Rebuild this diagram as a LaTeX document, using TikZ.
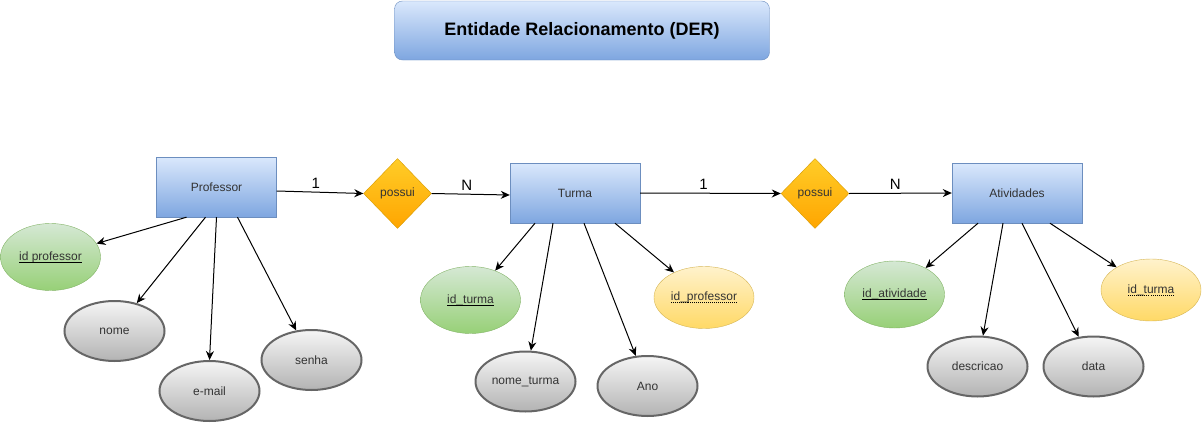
\documentclass[tikz,border=0pt]{standalone}
\usepackage{fontspec}
\setmainfont{Liberation Sans}
\usetikzlibrary{shapes.geometric,arrows.meta}
\definecolor{entTop}{HTML}{DAE8FC}
\definecolor{entBot}{HTML}{7EA6E0}
\definecolor{entLine}{HTML}{6C8EBF}
\definecolor{relTop}{HTML}{FFCD28}
\definecolor{relBot}{HTML}{FFA500}
\definecolor{relLine}{HTML}{D79B00}
\definecolor{keyTop}{HTML}{D5E8D4}
\definecolor{keyBot}{HTML}{97D077}
\definecolor{keyLine}{HTML}{82B366}
\definecolor{fkTop}{HTML}{FFF2CC}
\definecolor{fkBot}{HTML}{FFD966}
\definecolor{fkLine}{HTML}{D6B656}
\definecolor{attTop}{HTML}{F5F5F5}
\definecolor{attBot}{HTML}{B3B3B3}
\definecolor{attLine}{HTML}{666666}
\definecolor{txt}{HTML}{333333}
\newsavebox\ulbox
\newcommand\keyul[1]{\sbox\ulbox{#1}\hbox{\rlap{\usebox\ulbox}\raisebox{-2.5pt}{\color{black}\vrule width\wd\ulbox height 1pt depth 0pt}}}
\newcommand\dotul[1]{\sbox\ulbox{#1}\hbox{\rlap{\usebox\ulbox}\raisebox{-2.5pt}{\hbox to \wd\ulbox{\color{black}\xleaders\hbox to 2pt{\hss\vrule width 1pt height 1pt depth 0pt\hss}\hfill}}}}
\tikzset{
  entity/.style={draw=entLine,top color=entTop,bottom color=entBot,minimum width=120pt,minimum height=60pt,font=\fontsize{12}{14}\selectfont,text=txt},
  rel/.style={diamond,aspect=1,draw=relLine,top color=relTop,bottom color=relBot,minimum width=68pt,minimum height=70pt,inner sep=0pt,font=\fontsize{12}{14}\selectfont,text=txt},
  keyatt/.style={ellipse,draw=keyLine,top color=keyTop,bottom color=keyBot,minimum width=100pt,minimum height=67pt,inner sep=0pt,font=\fontsize{12}{14}\selectfont,text=txt},
  fkatt/.style={ellipse,draw=fkLine,top color=fkTop,bottom color=fkBot,minimum width=100pt,minimum height=62pt,inner sep=0pt,font=\fontsize{12}{14}\selectfont,text=txt},
  att/.style={ellipse,draw=attLine,line width=2pt,top color=attTop,bottom color=attBot,minimum width=100pt,minimum height=60pt,inner sep=0pt,font=\fontsize{12}{14}\selectfont,text=txt},
  link/.style={-{Stealth[length=9pt,width=8pt]},line width=1pt},
  card/.style={font=\fontsize{15}{17}\selectfont,above,inner sep=3pt}
}
\begin{document}
\begin{tikzpicture}[x=1pt,y=-1pt]
    \useasboundingbox (0,0) rectangle (1202,423);
    %Title
    \node[draw=entLine,top color=entTop,bottom color=entBot,rounded corners=8pt,minimum width=375pt,minimum height=59pt,font=\fontsize{18}{20}\selectfont\bfseries] (title) at (582,30.5) {Entidade Relacionamento (DER)};
    %Entities
    \node[entity] (prof) at (216.5,187) {Professor};
    \node[entity,minimum width=130pt] (turma) at (575,193) {Turma};
    \node[entity,minimum width=130pt] (ativ) at (1017,193) {Atividades};
    %Relations
    \node[rel] (possui1) at (397.5,193.5) {possui};
    \node[rel] (possui2) at (815,193.5) {possui};
    \draw[link] (prof.east |- 0,191) -- (possui1.west) node[card,pos=0.45]{1};
    \draw[link] (possui1.east) -- (turma.west |- 0,195) node[card,pos=0.45]{N};
    \draw[link] (turma.east) -- (possui2.west) node[card,pos=0.45]{1};
    \draw[link] (possui2.east) -- (ativ.west) node[card,pos=0.45]{N};
    %Professor attributes
    \node[keyatt] (idprof) at (50.5,257) {\keyul{id professor}};
    \node[att] (nome) at (114.5,331) {nome};
    \node[att] (email) at (209.5,391) {e-mail};
    \node[att] (senha) at (311.5,360) {senha};
    \draw[link] ([xshift=-30pt]prof.south) -- (idprof);
    \draw[link] ([xshift=-11pt]prof.south) -- (nome);
    \draw[link] (prof.south) -- (email.north);
    \draw[link] ([xshift=21pt]prof.south) -- (senha);
    %Turma attributes
    \node[keyatt] (idturma) at (470.5,300) {\keyul{id\_turma}};
    \node[att] (nometurma) at (525.5,381.5) {nome\_turma};
    \node[att] (ano) at (647.5,386) {Ano};
    \node[fkatt] (fkprof) at (704,297.5) {\dotul{id\_professor}};
    \draw[link] ([xshift=-40pt]turma.south) -- (idturma);
    \draw[link] ([xshift=-22pt]turma.south) -- (nometurma);
    \draw[link] ([xshift=9pt]turma.south) -- (ano);
    \draw[link] ([xshift=40pt]turma.south) -- (fkprof);
    %Atividades attributes
    \node[keyatt] (idativ) at (894.5,294.5) {\keyul{id\_atividade}};
    \node[att] (descr) at (977.5,366.5) {descricao};
    \node[att] (data) at (1093.5,366.5) {data};
    \node[fkatt] (fkturma) at (1151,290) {\dotul{id\_turma}};
    \draw[link] ([xshift=-39pt]ativ.south) -- (idativ);
    \draw[link] ([xshift=-14pt]ativ.south) -- (descr);
    \draw[link] ([xshift=5pt]ativ.south) -- (data);
    \draw[link] ([xshift=33pt]ativ.south) -- (fkturma);
\end{tikzpicture}
\end{document}
